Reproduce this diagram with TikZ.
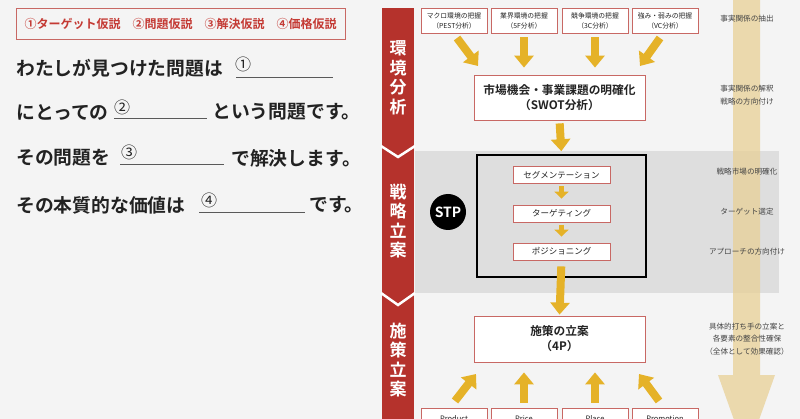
\documentclass[tikz,border=0pt]{standalone}
\usepackage{fontspec}
\setmainfont{Noto Sans CJK JP}[BoldFont={Noto Sans CJK JP Bold}]
\usetikzlibrary{arrows.meta}
\definecolor{bandred}{RGB}{181,50,44}
\definecolor{boxred}{RGB}{200,104,100}
\definecolor{hypred}{RGB}{196,58,52}
\definecolor{gold}{RGB}{229,178,40}
\definecolor{sand}{RGB}{232,208,150}
\definecolor{paper}{RGB}{244,244,244}
\definecolor{stpgray}{RGB}{222,222,222}
\definecolor{ink}{RGB}{34,34,34}

\begin{document}
\begin{tikzpicture}[x=1pt,y=-1pt,
  every node/.style={inner sep=0pt,text=ink},
  hypbox/.style={draw=boxred,line width=0.9pt,minimum width=329pt,minimum height=31pt,
    text=hypred,font=\fontsize{12}{14}\selectfont\bfseries},
  sentence/.style={anchor=west,font=\fontsize{18.8}{20}\selectfont\bfseries},
  circnum/.style={font=\fontsize{16}{16}\selectfont},
  blank/.style={draw=ink!75,line width=0.9pt},
  band/.style={text=white,align=center,font=\fontsize{17}{19.5}\selectfont\bfseries},
  fivebox/.style={draw=boxred,line width=0.8pt,fill=white,minimum width=66pt,minimum height=25pt,
    align=center,font=\fontsize{6.8}{10}\selectfont},
  mainbox/.style={draw=boxred,line width=0.8pt,fill=white,minimum width=171pt,
    align=center,font=\fontsize{11.7}{15}\selectfont\bfseries},
  stpbox/.style={draw=boxred,line width=0.8pt,fill=white,minimum width=97pt,minimum height=17pt,
    font=\fontsize{8.5}{10}\selectfont},
  fourbox/.style={stpbox,minimum width=66pt,minimum height=22pt,font=\fontsize{7.5}{9}\selectfont},
  note/.style={align=center,text=ink!85,font=\fontsize{7.6}{12.8}\selectfont},
  yarrow/.style={draw=gold,line width=8pt,-{Triangle[width=19pt,length=12pt]}},
  ysmall/.style={draw=gold,line width=5.5pt,-{Triangle[width=14pt,length=7pt]}}
]
  \useasboundingbox (0,0) rectangle (800,419);
  \clip (0,0) rectangle (800,419);
  \fill[paper] (0,0) rectangle (800,419);

  % left: hypothesis sheet
  \node[hypbox] (hyp) at (180.5,23.5) {①ターゲット仮説　②問題仮説　③解決仮説　④価格仮説};

  \node[sentence] (s1) at (16,68) {わたしが見つけた問題は};
  \node[circnum] (c1) at (243,64) {①};
  \draw[blank] (236,77) -- (333,77);

  \node[sentence] (s2) at (16,112) {にとっての};
  \node[circnum] (c2) at (122,107) {②};
  \draw[blank] (114,118) -- (207,118);
  \node[sentence] (s2b) at (212,112) {という問題です。};

  \node[sentence] (s3) at (16,158) {その問題を};
  \node[circnum] (c3) at (129,152) {③};
  \draw[blank] (120,164) -- (224,164);
  \node[sentence] (s3b) at (231,158) {で解決します。};

  \node[sentence] (s4) at (16,205) {その本質的な価値は};
  \node[circnum] (c4) at (209,200) {④};
  \draw[blank] (199,212) -- (305,212);
  \node[sentence] (s4b) at (309,205) {です。};

  % right: background bands
  \fill[stpgray] (415,151) rectangle (779,293);
  \fill[sand,fill opacity=0.75] (733,-1) -- (760,-1) -- (760,375) -- (775,375)
    -- (746.5,455) -- (718,375) -- (733,375) -- cycle;

  \fill[bandred] (382,8) rectangle (414,419);
  \draw[white,line width=2.5pt] (381,146) -- (398,157) -- (415,146);
  \draw[white,line width=2.5pt] (381,293) -- (398,305) -- (415,293);
  \node[band] (env) at (398,78) {環\\境\\分\\析};
  \node[band] (strat) at (398,221) {戦\\略\\立\\案};
  \node[band] (meas) at (398,360) {施\\策\\立\\案};

  % environment analysis
  \node[fivebox] (pest) at (454,20.5) {マクロ環境の把握\\（PEST分析）};
  \node[fivebox] (fiveF) at (524,20.5) {業界環境の把握\\（5F分析）};
  \node[fivebox] (threeC) at (595,20.5) {競争環境の把握\\（3C分析）};
  \node[fivebox] (vc) at (665,20.5) {強み・弱みの把握\\（VC分析）};
  \node[mainbox,minimum height=45pt] (swot) at (559.5,97.5) {市場機会・事業課題の明確化\\（SWOT分析）};

  \coordinate (pestA) at (457,38);
  \coordinate (pestB) at (478,66);
  \coordinate (vcA) at (660,38);
  \coordinate (vcB) at (640,66);
  \draw[yarrow] (pestA) -- (pestB);
  \draw[yarrow,shorten <=4pt,shorten >=7pt] (fiveF.south) -- (fiveF.south |- swot.north);
  \draw[yarrow,shorten <=4pt,shorten >=7pt] (threeC.south) -- (threeC.south |- swot.north);
  \draw[yarrow] (vcA) -- (vcB);

  % STP
  \node[draw=black,line width=1.6pt,minimum width=169pt,minimum height=122pt] (frame) at (561.5,216) {};
  \node[circle,fill=black,minimum size=36pt,text=white,font=\fontsize{14}{14}\selectfont\bfseries] (stp) at (448,212) {STP};
  \node[stpbox] (seg) at (561.5,175) {セグメンテーション};
  \node[stpbox] (tgt) at (561.5,213.5) {ターゲティング};
  \node[stpbox] (pos) at (561.5,251.5) {ポジショニング};
  \draw[ysmall,shorten <=2.5pt,shorten >=6pt] (seg) -- (tgt);
  \draw[ysmall,shorten <=2.5pt,shorten >=6pt] (tgt) -- (pos);
  \draw[yarrow,shorten <=3pt,shorten >=3pt] (swot.south) -- (frame.north);

  % 4P
  \node[mainbox,minimum height=46pt] (fourP) at (559.5,339) {施策の立案\\（4P）};
  \draw[yarrow,shorten <=6pt,shorten >=1pt] (pos.south) -- (fourP.north);
  \node[fourbox] (product) at (454,419) {Product};
  \node[fourbox] (price) at (524,419) {Price};
  \node[fourbox] (place) at (595,419) {Place};
  \node[fourbox] (promo) at (665,419) {Promotion};

  \coordinate (prodA) at (455,401);
  \coordinate (prodB) at (476,374);
  \coordinate (promoA) at (659,401);
  \coordinate (promoB) at (639,374);
  \draw[yarrow] (prodA) -- (prodB);
  \draw[yarrow,shorten <=5pt,shorten >=10pt] (price.north) -- (price.north |- fourP.south);
  \draw[yarrow,shorten <=5pt,shorten >=10pt] (place.north) -- (place.north |- fourP.south);
  \draw[yarrow] (promoA) -- (promoB);

  % notes
  \node[note] (n1) at (747,19) {事実関係の抽出};
  \node[note] (n2) at (747,95) {事実関係の解釈\\戦略の方向付け};
  \node[note] (n3) at (747,172) {戦略市場の明確化};
  \node[note] (n4) at (747,212) {ターゲット選定};
  \node[note] (n5) at (747,252) {アプローチの方向付け};
  \node[note] (n6) at (747,339) {具体的打ち手の立案と\\各要素の整合性確保\\（全体として効果確認）};
\end{tikzpicture}
\end{document}
